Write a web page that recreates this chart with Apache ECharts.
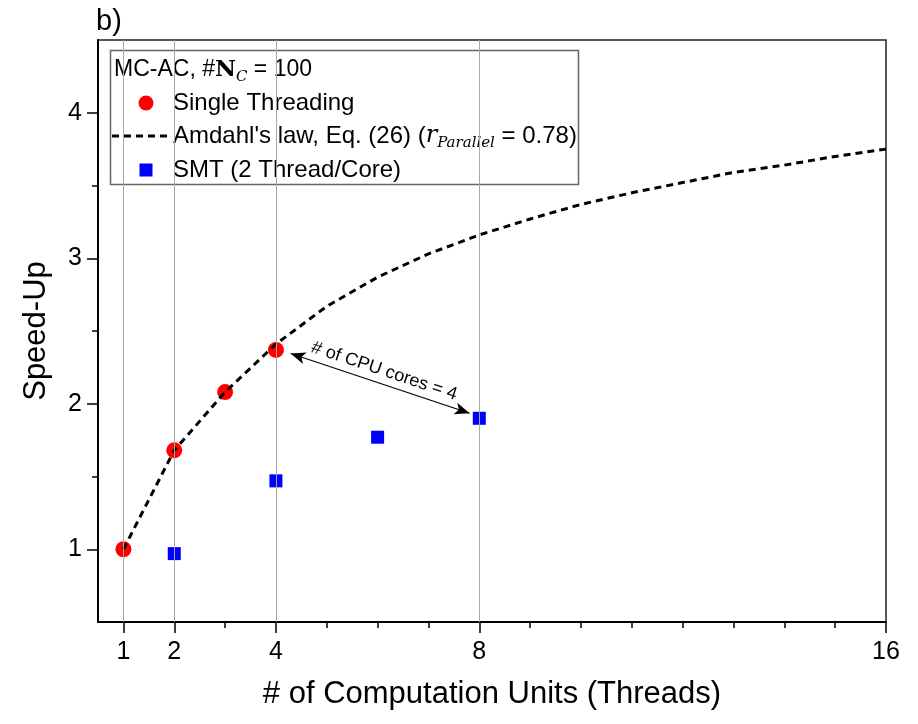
<!DOCTYPE html>
<html>
<head>
<meta charset="utf-8">
<title>Speed-Up vs. computation units</title>
<script src="https://cdn.jsdelivr.net/npm/echarts@6/dist/echarts.min.js"></script>
<style>
  html, body { margin: 0; padding: 0; background: #fff; }
  #chart { width: 918px; height: 724px; }
</style>
</head>
<body>
<div id="chart"></div>
<script>
// Axis ticks
const xTicksMajor = [1, 2, 4, 8, 16];
const xTicksMinor = [3, 5, 6, 7, 9, 10, 11, 12, 13, 14, 15];
const yTicksMajor = [1, 2, 3, 4];
const yTicksMinor = [1.5, 2.5, 3.5];
const xGridLines = [1, 2, 4, 8];

// Measured speed-up, one thread per core
const singleThreads = [1, 2, 3, 4];
const singleSpeedup = [1.00, 1.68, 2.08, 2.37];

// Measured speed-up, simultaneous multithreading (2 threads per core)
const smtThreads = [2, 4, 6, 8];
const smtSpeedup = [0.97, 1.47, 1.77, 1.90];

// Amdahl's law curve, r_Parallel = 0.78
const amdahlThreads = [1, 2, 3, 4, 5, 6, 7, 8, 9, 10, 11, 12, 13, 14, 15, 16];
const amdahlSpeedup = [1.00, 1.68, 2.08, 2.41, 2.67, 2.87, 3.03, 3.16, 3.27, 3.37, 3.45, 3.52, 3.59, 3.64, 3.70, 3.75];

// Double-headed arrow between 4 single-threaded and 8 SMT threads
const coresArrowFrom = [4.29, 2.345];
const coresArrowTo = [7.81, 1.935];
const coresArrowText = '# of CPU cores = 4';

const FONT = '"Liberation Sans", Arial, sans-serif';
const SERIF = '"DejaVu Serif", "Liberation Serif", serif';

const zip = (xs, ys) => xs.map((x, i) => [x, ys[i]]);

const chart = echarts.init(document.getElementById('chart'), null, { renderer: 'canvas' });

const option = {
  animation: false,
  backgroundColor: '#fff',
  grid: {
    left: 98, right: 32, top: 40, bottom: 102,
    show: true, borderColor: '#222', borderWidth: 1.5, backgroundColor: 'transparent'
  },
  xAxis: [
    {
      type: 'value', min: 0.5, max: 16, position: 'bottom',
      axisLine: { show: true, onZero: false, lineStyle: { color: '#000', width: 2 } },
      axisTick: { show: true, inside: false, length: 11, customValues: xTicksMajor, lineStyle: { color: '#000', width: 1.5 } },
      axisLabel: { customValues: xTicksMajor, fontSize: 25, color: '#000', margin: 18, fontFamily: FONT },
      splitLine: { show: false },
      name: '# of Computation Units (Threads)', nameLocation: 'middle', nameGap: 57,
      nameTextStyle: { fontSize: 31, color: '#000', fontFamily: FONT }
    },
    {
      type: 'value', min: 0.5, max: 16, position: 'bottom',
      axisLine: { show: false },
      axisTick: { show: true, inside: false, length: 6, customValues: xTicksMinor, lineStyle: { color: '#000', width: 1.5 } },
      axisLabel: { show: false },
      splitLine: { show: false }
    }
  ],
  yAxis: [
    {
      type: 'value', min: 0.5, max: 4.5, position: 'left',
      axisLine: { show: true, onZero: false, lineStyle: { color: '#000', width: 2 } },
      axisTick: { show: true, inside: false, length: 11, customValues: yTicksMajor, lineStyle: { color: '#000', width: 1.5 } },
      axisLabel: { customValues: yTicksMajor, fontSize: 25, color: '#000', margin: 16, fontFamily: FONT },
      splitLine: { show: false },
      name: 'Speed-Up', nameLocation: 'middle', nameGap: 46,
      nameTextStyle: { fontSize: 31, color: '#000', fontFamily: FONT }
    },
    {
      type: 'value', min: 0.5, max: 4.5, position: 'left',
      axisLine: { show: false },
      axisTick: { show: true, inside: false, length: 6, customValues: yTicksMinor, lineStyle: { color: '#000', width: 1.5 } },
      axisLabel: { show: false },
      splitLine: { show: false }
    }
  ],
  series: [
    {
      name: 'grid lines', type: 'line', data: [], xAxisIndex: 0, yAxisIndex: 0, z: 1,
      markLine: {
        silent: true, symbol: 'none', animation: false,
        label: { show: false },
        lineStyle: { color: '#a8a8a8', width: 1, type: 'solid' },
        data: xGridLines.map(v => ({ xAxis: v }))
      }
    },
    {
      name: 'Single Threading', type: 'scatter', xAxisIndex: 0, yAxisIndex: 0, z: 3,
      symbol: 'circle', symbolSize: 16,
      itemStyle: { color: '#ff0000', opacity: 1 },
      data: zip(singleThreads, singleSpeedup)
    },
    {
      name: "Amdahl's law", type: 'line', xAxisIndex: 0, yAxisIndex: 0, z: 4,
      symbol: 'none', smooth: false,
      lineStyle: { color: '#000', width: 3, type: [7, 5] },
      data: zip(amdahlThreads, amdahlSpeedup)
    },
    {
      name: 'SMT (2 Thread/Core)', type: 'scatter', xAxisIndex: 0, yAxisIndex: 0, z: 3,
      symbol: 'rect', symbolSize: 13,
      itemStyle: { color: '#0000ff', opacity: 1 },
      data: zip(smtThreads, smtSpeedup),
      markLine: {
        silent: true, animation: false,
        symbol: ['arrow', 'arrow'], symbolSize: [9, 15],
        lineStyle: { color: '#000', width: 1.2, type: 'solid' },
        label: {
          show: true, position: 'insideMiddleTop', formatter: coresArrowText,
          fontSize: 18, color: '#000', fontFamily: FONT, distance: 4
        },
        data: [[{ coord: coresArrowFrom }, { coord: coresArrowTo }]]
      }
    }
  ],
  graphic: [
    {
      type: 'text', x: 96, y: 7, z: 10,
      style: { text: 'b)', fontSize: 29, fill: '#000', fontFamily: FONT }
    },
    {
      type: 'group', x: 0, y: 0, z: 20,
      children: [
        {
          type: 'rect', shape: { x: 110.5, y: 50.5, width: 468, height: 134 },
          style: { fill: '#fff', stroke: '#666', lineWidth: 1.5 }
        },
        {
          type: 'text', x: 114, y: 70,
          style: {
            text: 'MC-AC, #{b|N}{s|C} = 100',
            fontSize: 23, fontFamily: FONT, fill: '#000',
            verticalAlign: 'middle', lineHeight: 30,
            rich: {
              b: { fontSize: 23, fontFamily: SERIF, fontWeight: 'bold', fill: '#000', lineHeight: 30 },
              s: { fontSize: 15, fontFamily: SERIF, fontStyle: 'italic', fill: '#000', verticalAlign: 'bottom', lineHeight: 14 }
            }
          }
        },
        { type: 'circle', shape: { cx: 146, cy: 103, r: 7.5 }, style: { fill: '#ff0000' } },
        {
          type: 'text', x: 173, y: 103,
          style: { text: 'Single Threading', fontSize: 24, fontFamily: FONT, fill: '#000', verticalAlign: 'middle' }
        },
        {
          type: 'line', shape: { x1: 112, y1: 136, x2: 168, y2: 136 },
          style: { stroke: '#000', lineWidth: 3, lineDash: [7, 5] }
        },
        {
          type: 'text', x: 173, y: 136,
          style: {
            text: "Amdahl's law, Eq. (26) ({r|r}{s|Parallel} = 0.78)",
            fontSize: 24, fontFamily: FONT, fill: '#000',
            verticalAlign: 'middle', lineHeight: 30,
            rich: {
              r: { fontSize: 24, fontFamily: SERIF, fontStyle: 'italic', fill: '#000', lineHeight: 30 },
              s: { fontSize: 15, fontFamily: SERIF, fontStyle: 'italic', fill: '#000', verticalAlign: 'bottom', lineHeight: 14 }
            }
          }
        },
        { type: 'rect', shape: { x: 139.5, y: 163.5, width: 13, height: 13 }, style: { fill: '#0000ff' } },
        {
          type: 'text', x: 173, y: 170,
          style: { text: 'SMT (2 Thread/Core)', fontSize: 24, fontFamily: FONT, fill: '#000', verticalAlign: 'middle' }
        }
      ]
    }
  ]
};

chart.setOption(option);
</script>
</body>
</html>
